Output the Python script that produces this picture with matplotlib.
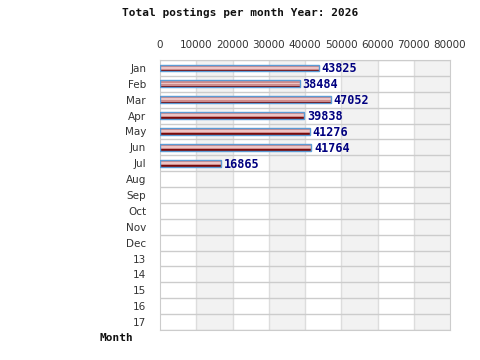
import matplotlib
matplotlib.use("Agg")
import matplotlib.pyplot as plt
import numpy as np

months = ["Jan", "Feb", "Mar", "Apr", "May", "Jun", "Jul", "Aug", "Sep", "Oct",
          "Nov", "Dec", "13", "14", "15", "16", "17"]
values = [43825, 38484, 47052, 39838, 41276, 41764, 16865]
xticks = [0, 10000, 20000, 30000, 40000, 50000, 60000, 70000, 80000]

fig = plt.figure(figsize=(4.8, 3.6), dpi=100)
ax = fig.add_axes([160/480, 1 - 330/360, 290/480, 270/360])

n = len(months)
ax.set_xlim(0, 80000)
ax.set_ylim(n - 0.5, -0.5)

# alternating vertical bands
for i in range(1, len(xticks) - 1, 2):
    ax.axvspan(xticks[i], xticks[i + 1], color="#f2f2f2", zorder=0, lw=0)
for x in xticks[1:-1]:
    ax.axvline(x, color="#dddddd", lw=1, zorder=1)
for k in range(n + 1):
    ax.axhline(k - 0.5, color="#cccccc", lw=1, zorder=1)

y = np.arange(len(values))
# gradient-like bar made from nested strips
ax.barh(y, values, height=0.42, color="#7a0a0a", lw=0, zorder=3)
ax.barh(y - 0.02, values, height=0.28, color="#cf8c8c", lw=0, zorder=4)
ax.barh(y - 0.02, values, height=0.12, color="#edc4c4", lw=0, zorder=5)
ax.barh(y, values, height=0.42, color="none", edgecolor="#5b9bd5", lw=1, zorder=6)

for yi, v in zip(y, values):
    ax.text(v + 700, yi + 0.05, str(v), ha="left", va="center", color="#000080",
            fontsize=8.5, fontweight="bold", family="DejaVu Sans Mono", zorder=7)

ax.set_xticks(xticks)
ax.set_xticklabels([str(t) for t in xticks])
ax.xaxis.tick_top()
ax.set_yticks(range(n))
ax.set_yticklabels(months)
ax.tick_params(axis="both", length=0, labelsize=7.5, colors="#333333")
ax.tick_params(axis="x", pad=7)
ax.tick_params(axis="y", pad=10)
for s in ax.spines.values():
    s.set_color("#cccccc")

fig.text(240/480, 1 - 13/360, "Total postings per month Year: 2026", ha="center", va="center",
         fontsize=8, fontweight="bold", family="DejaVu Sans Mono", color="#111111")
fig.text(100/480, 1 - 338/360, "Month", ha="left", va="center",
         fontsize=8, fontweight="bold", family="DejaVu Sans Mono", color="#111111")

fig.savefig("out.png", dpi=100, facecolor="white")
